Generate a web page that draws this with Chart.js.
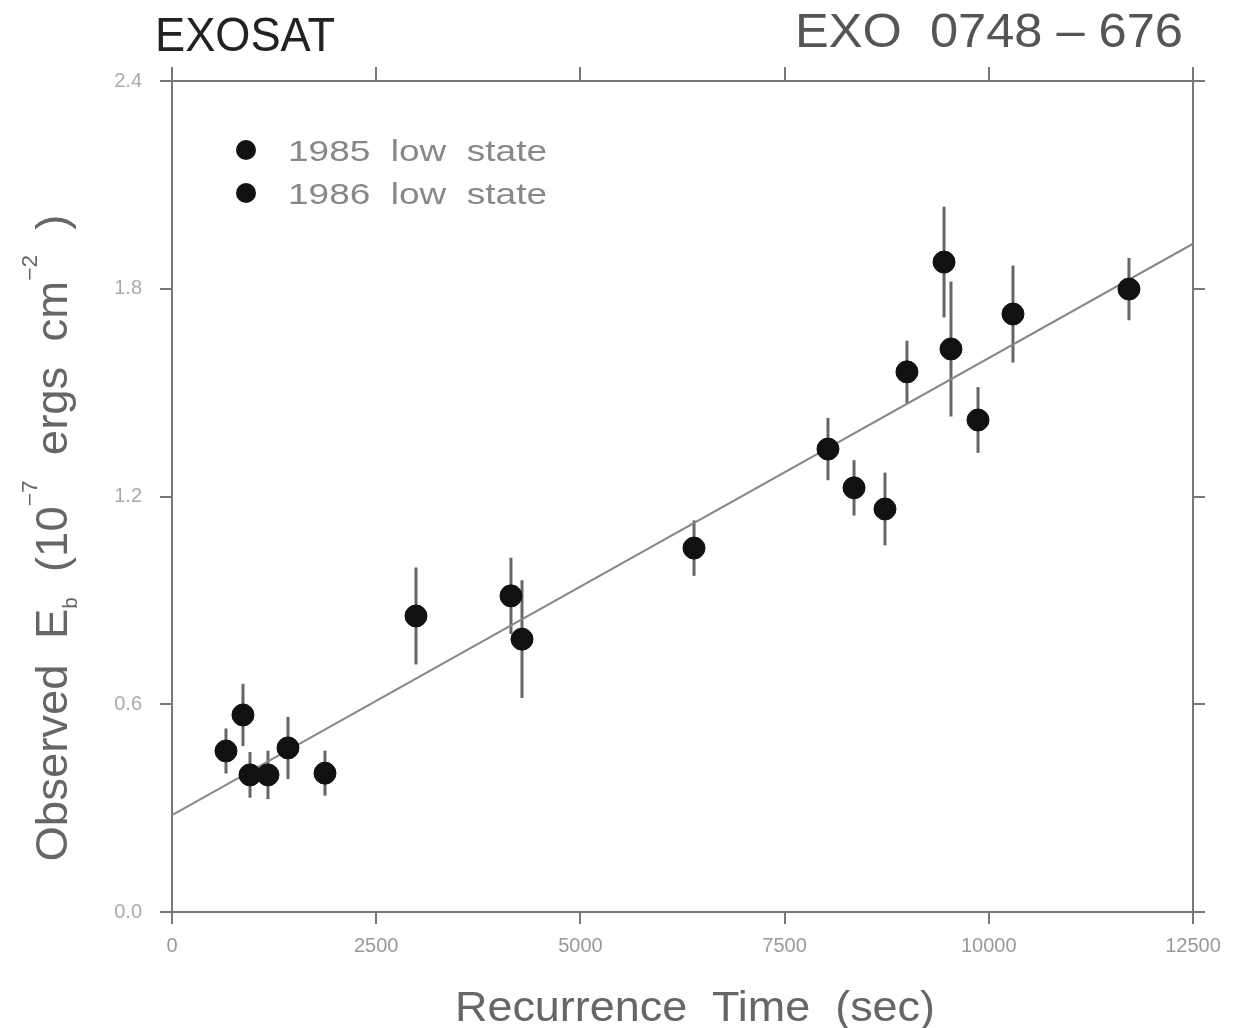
<!DOCTYPE html>
<html>
<head>
<meta charset="utf-8">
<script src="https://cdn.jsdelivr.net/npm/chart.js@4.4.1/dist/chart.umd.min.js"></script>
<style>
  body { margin: 0; background: #ffffff; }
  #wrap { width: 1249px; height: 1028px; }
</style>
</head>
<body>
<div id="wrap"><canvas id="exo-chart" width="1249" height="1028"></canvas></div>
<script>
// Data (recurrence time in sec, E_b in 1e-7 ergs cm^-2)
const recurrence1985 = [661, 869, 955, 1175, 1420, 1873, 2987, 4150, 4285, 6391];
const energy1985 = [0.465, 0.569, 0.396, 0.396, 0.474, 0.401, 0.855, 0.913, 0.788, 1.051];
const error1985 = [0.065, 0.09, 0.066, 0.07, 0.09, 0.065, 0.14, 0.11, 0.17, 0.08];

const recurrence1986 = [8031, 8350, 8729, 8998, 9452, 9537, 9868, 10296, 11716];
const energy1986 = [1.337, 1.225, 1.164, 1.56, 1.877, 1.626, 1.421, 1.727, 1.799];
const error1986 = [0.09, 0.08, 0.105, 0.09, 0.16, 0.195, 0.095, 0.14, 0.09];

const fitX = [0, 12500];
const fitY = [0.28, 1.93];

const xTicks = [0, 2500, 5000, 7500, 10000, 12500];
const yTicks = [0.0, 0.6, 1.2, 1.8, 2.4];

const seriesLabels = ['1985  low  state', '1986  low  state'];

function toPoints(xs, ys, errs) {
  return xs.map((x, i) => ({ x: x, y: ys[i], err: errs ? errs[i] : 0 }));
}

// draw text stretched/squeezed horizontally to a given width
function fitText(ctx, text, x, y, width) {
  const w = ctx.measureText(text).width;
  ctx.save();
  ctx.translate(x, y);
  ctx.scale(width / w, 1);
  ctx.textAlign = 'left';
  ctx.fillText(text, 0, 0);
  ctx.restore();
}

// Vertical error bars, drawn under the markers
const errorBars = {
  id: 'errorBars',
  beforeDatasetsDraw(chart) {
    const ctx = chart.ctx;
    const xs = chart.scales.x;
    const ys = chart.scales.y;
    ctx.save();
    ctx.strokeStyle = '#666';
    ctx.lineWidth = 3;
    chart.data.datasets.forEach((ds) => {
      if (ds.type !== 'scatter') return;
      ds.data.forEach((p) => {
        const px = xs.getPixelForValue(p.x);
        ctx.beginPath();
        ctx.moveTo(px, ys.getPixelForValue(p.y + p.err));
        ctx.lineTo(px, ys.getPixelForValue(p.y - p.err));
        ctx.stroke();
      });
    });
    ctx.restore();
  }
};

// Titles, axis titles and in-plot legend
const annotations = {
  id: 'annotations',
  afterDraw(chart) {
    const ctx = chart.ctx;
    ctx.save();
    ctx.textBaseline = 'alphabetic';

    // top titles
    ctx.font = "48px 'Liberation Sans', sans-serif";
    ctx.fillStyle = '#222';
    fitText(ctx, 'EXOSAT', 155, 51, 180);
    ctx.fillStyle = '#555';
    fitText(ctx, 'EXO  0748 \u2013 676', 795, 47, 388);

    // x axis title
    ctx.font = "43px 'Liberation Sans', sans-serif";
    ctx.fillStyle = '#666';
    fitText(ctx, 'Recurrence  Time  (sec)', 455, 1021, 480);

    // legend
    const legendY = [150, 193];
    chart.data.datasets.filter((d) => d.type === 'scatter').forEach((ds, i) => {
      ctx.beginPath();
      ctx.fillStyle = '#111';
      ctx.arc(246, legendY[i], 10, 0, Math.PI * 2);
      ctx.fill();
      ctx.font = "30px 'Liberation Sans', sans-serif";
      ctx.fillStyle = '#888';
      fitText(ctx, ds.label, 288, legendY[i] + 11, 259);
    });

    // y axis title, rotated, with sub/superscripts
    const parts = [
      { t: 'Observed  E', size: 44, dy: 0 },
      { t: 'b', size: 20, dy: 10 },
      { t: '  (10', size: 44, dy: 0 },
      { t: '\u22127', size: 22, dy: -30 },
      { t: '  ergs  cm', size: 44, dy: 0 },
      { t: '\u22122', size: 22, dy: -30 },
      { t: '  )', size: 44, dy: 0 }
    ];
    let total = 0;
    parts.forEach((p) => {
      ctx.font = p.size + "px 'Liberation Sans', sans-serif";
      p.w = ctx.measureText(p.t).width;
      total += p.w;
    });
    const sx = 647 / total;
    ctx.translate(67, 538);
    ctx.rotate(-Math.PI / 2);
    ctx.scale(sx, 1);
    ctx.fillStyle = '#666';
    ctx.textAlign = 'left';
    let cx = -total / 2;
    parts.forEach((p) => {
      ctx.font = p.size + "px 'Liberation Sans', sans-serif";
      ctx.fillText(p.t, cx, p.dy);
      cx += p.w;
    });
    ctx.restore();
  }
};

const axisColor = '#777';
const tickFont = { size: 20, family: "'Liberation Sans', sans-serif" };

const ctx = document.getElementById('exo-chart').getContext('2d');
new Chart(ctx, {
  data: {
    datasets: [
      {
        type: 'scatter',
        label: seriesLabels[0],
        data: toPoints(recurrence1985, energy1985, error1985),
        backgroundColor: '#111',
        borderColor: '#111',
        pointRadius: 11,
        order: 1
      },
      {
        type: 'scatter',
        label: seriesLabels[1],
        data: toPoints(recurrence1986, energy1986, error1986),
        backgroundColor: '#111',
        borderColor: '#111',
        pointRadius: 11,
        order: 1
      },
      {
        type: 'line',
        label: 'fit',
        data: toPoints(fitX, fitY),
        borderColor: '#888',
        borderWidth: 2,
        pointRadius: 0,
        order: 3
      }
    ]
  },
  options: {
    responsive: false,
    animation: false,
    layout: { padding: 0 },
    plugins: {
      legend: { display: false },
      title: { display: false },
      tooltip: { enabled: false }
    },
    scales: {
      x: {
        type: 'linear',
        position: 'bottom',
        min: 0,
        max: 12500,
        afterBuildTicks: (s) => { s.ticks = xTicks.map((v) => ({ value: v })); },
        afterFit: (s) => { s.height = 116; },
        ticks: {
          color: '#999',
          font: tickFont,
          padding: 10,
          maxRotation: 0,
          callback: (v) => String(v)
        },
        grid: { drawOnChartArea: false, tickLength: 12, color: axisColor, lineWidth: 2 },
        border: { color: axisColor, width: 2 }
      },
      x2: {
        type: 'linear',
        position: 'top',
        min: 0,
        max: 12500,
        afterBuildTicks: (s) => { s.ticks = xTicks.map((v) => ({ value: v })); },
        afterFit: (s) => { s.height = 81; },
        ticks: { color: 'rgba(0,0,0,0)', font: tickFont },
        grid: { drawOnChartArea: false, tickLength: 14, color: axisColor, lineWidth: 2 },
        border: { color: axisColor, width: 2 }
      },
      y: {
        type: 'linear',
        position: 'left',
        min: 0,
        max: 2.4,
        afterBuildTicks: (s) => { s.ticks = yTicks.map((v) => ({ value: v })); },
        afterFit: (s) => { s.width = 172; },
        ticks: {
          color: '#aaa',
          font: tickFont,
          padding: 18,
          callback: (v) => v.toFixed(1)
        },
        grid: { drawOnChartArea: false, tickLength: 12, color: axisColor, lineWidth: 2 },
        border: { color: axisColor, width: 2 }
      },
      y2: {
        type: 'linear',
        position: 'right',
        min: 0,
        max: 2.4,
        afterBuildTicks: (s) => { s.ticks = yTicks.map((v) => ({ value: v })); },
        afterFit: (s) => { s.width = 56; },
        ticks: { color: 'rgba(0,0,0,0)', font: tickFont },
        grid: { drawOnChartArea: false, tickLength: 12, color: axisColor, lineWidth: 2 },
        border: { color: axisColor, width: 2 }
      }
    }
  },
  plugins: [errorBars, annotations]
});
</script>
</body>
</html>
